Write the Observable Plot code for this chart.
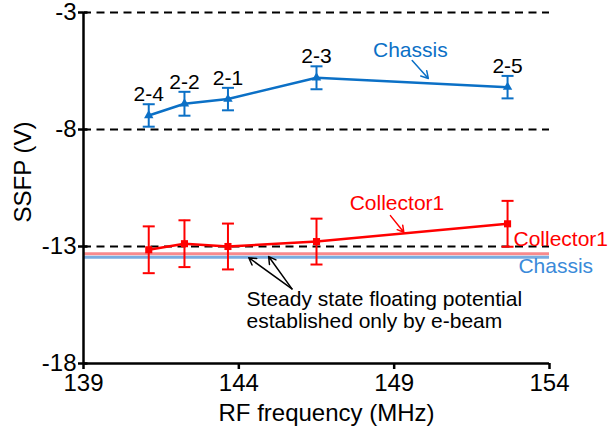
<!DOCTYPE html>
<html>
<head>
<meta charset="utf-8">
<script src="https://cdn.jsdelivr.net/npm/d3@7"></script>
<script src="https://cdn.jsdelivr.net/npm/@observablehq/plot@0.6"></script>
<style>
  html, body { margin: 0; padding: 0; background: white; }
</style>
</head>
<body>
<div id="chart"></div>
<script>
// ---- data ----
const freqs = [141.1, 142.25, 143.65, 146.5, 152.65];
const pointLabels = ["2-4", "2-2", "2-1", "2-3", "2-5"];
const chassis = [-7.40, -6.90, -6.70, -5.79, -6.19];
const chassisErr = [0.48, 0.51, 0.48, 0.49, 0.48];
const collector = [-13.14, -12.88, -13.0, -12.79, -12.03];
const collectorErr = [1.0, 1.0, 0.98, 0.98, 0.98];
const eBeamLevels = [-13.31, -13.46]; // Collector1, Chassis (e-beam only)
const gridLevels = [-3, -8, -13];
const xTicks = [139, 144, 149, 154];
const yTicks = [-3, -8, -13, -18];

const blue = "#0b70c6";
const red = "#ff0000";

const chassisData = freqs.map((f, i) => ({f, v: chassis[i], lo: chassis[i] - chassisErr[i], hi: chassis[i] + chassisErr[i], label: pointLabels[i]}));
const collectorData = freqs.map((f, i) => ({f, v: collector[i], lo: collector[i] - collectorErr[i], hi: collector[i] + collectorErr[i]}));

const cap = { draw(ctx) { ctx.moveTo(-6, 0); ctx.lineTo(6, 0); } };
const innerTick = { draw(ctx) { ctx.moveTo(0, 0); ctx.lineTo(4, 0); } };
const font = "Liberation Sans, Arial, Helvetica, sans-serif";

const chart = Plot.plot({
  width: 608,
  height: 429,
  marginLeft: 83,
  marginRight: 59,
  marginTop: 12,
  marginBottom: 66,
  x: { domain: [139, 154] },
  y: { domain: [-18, -3] },
  style: { fontFamily: font, background: "white", overflow: "visible", color: "black" },
  marks: [
    // e-beam-only floating potential lines
    Plot.ruleY([eBeamLevels[0]], { x1: 139, x2: 154, stroke: "#f88a8c", strokeWidth: 3 }),
    Plot.ruleY([eBeamLevels[1]], { x1: 139, x2: 154, stroke: "#79ace0", strokeWidth: 3 }),
    // dashed grid lines
    Plot.ruleY(gridLevels, { x1: 139, x2: 154, stroke: "black", strokeWidth: 2, strokeDasharray: "8,5.5" }),
    // axes
    Plot.axisY(yTicks, { tickSize: 5, tickPadding: 2, fontSize: 24, tickFormat: d => String(d), strokeWidth: 2.5, label: null }),
    Plot.dot(yTicks, { x: xTicks[0], y: d => d, symbol: innerTick, stroke: "black", strokeWidth: 2.5, fill: "none" }),
    Plot.axisX(xTicks, { tickSize: 6, tickPadding: 4, fontSize: 24, tickFormat: d => String(d), strokeWidth: 2.5, label: null }),
    Plot.ruleX([139], { y1: -18, y2: -3, stroke: "black", strokeWidth: 2.5 }),
    Plot.ruleY([-18], { x1: 139, x2: 154, stroke: "black", strokeWidth: 2.5 }),
    // axis titles
    Plot.text(["SSFP (V)"], { frameAnchor: "left", textAnchor: "middle", lineAnchor: "middle", rotate: -90, dx: -60, dy: -16, fontSize: 24, fill: "black" }),
    Plot.text(["RF frequency (MHz)"], { frameAnchor: "bottom", lineAnchor: "bottom", dx: 10, dy: 57, fontSize: 24, fill: "black" }),
    // Chassis series
    Plot.ruleX(chassisData, { x: "f", y1: "lo", y2: "hi", stroke: blue, strokeWidth: 2 }),
    Plot.dot(chassisData, { x: "f", y: "lo", symbol: cap, stroke: blue, strokeWidth: 2, fill: "none" }),
    Plot.dot(chassisData, { x: "f", y: "hi", symbol: cap, stroke: blue, strokeWidth: 2, fill: "none" }),
    Plot.line(chassisData, { x: "f", y: "v", stroke: blue, strokeWidth: 2.5 }),
    Plot.dot(chassisData, { x: "f", y: "v", symbol: "triangle", r: 3.5, fill: blue }),
    Plot.text(chassisData, { x: "f", y: "hi", text: "label", dy: -3, lineAnchor: "bottom", fontSize: 21, fill: "black" }),
    // Collector1 series
    Plot.ruleX(collectorData, { x: "f", y1: "lo", y2: "hi", stroke: red, strokeWidth: 2 }),
    Plot.dot(collectorData, { x: "f", y: "lo", symbol: cap, stroke: red, strokeWidth: 2, fill: "none" }),
    Plot.dot(collectorData, { x: "f", y: "hi", symbol: cap, stroke: red, strokeWidth: 2, fill: "none" }),
    Plot.line(collectorData, { x: "f", y: "v", stroke: red, strokeWidth: 2.5 }),
    Plot.dot(collectorData, { x: "f", y: "v", symbol: "square", r: 4, fill: red }),
    // annotations
    Plot.text(["Chassis"], { x: 149.52, y: -4.92, lineAnchor: "bottom", fontSize: 21, fill: blue }),
    Plot.arrow([0], { x1: 149.58, y1: -5.05, x2: 150.1, y2: -5.82, stroke: blue, strokeWidth: 1.5, headLength: 8 }),
    Plot.text(["Collector1"], { x: 149.09, y: -11.46, lineAnchor: "bottom", fontSize: 21, fill: red }),
    Plot.arrow([0], { x1: 148.88, y1: -11.68, x2: 149.31, y2: -12.39, stroke: red, strokeWidth: 1.5, headLength: 8 }),
    Plot.text(["Collector1"], { x: 152.84, y: -12.96, textAnchor: "start", lineAnchor: "bottom", fontSize: 21, fill: red }),
    Plot.text(["Chassis"], { x: 153.0, y: -14.15, textAnchor: "start", lineAnchor: "bottom", fontSize: 21, fill: "#3a8ad9" }),
    Plot.text(["Steady state floating potential\nestablished only by e-beam"], { x: 144.25, y: -16.5, textAnchor: "start", lineAnchor: "bottom", lineHeight: 1.05, fontSize: 21, fill: "black" }),
    Plot.arrow([0], { x1: 145.71, y1: -14.81, x2: 144.32, y2: -13.48, stroke: "black", strokeWidth: 1.5, headLength: 8 }),
    Plot.arrow([0], { x1: 145.71, y1: -14.81, x2: 144.96, y2: -13.43, stroke: "black", strokeWidth: 1.5, headLength: 8 })
  ]
});
document.getElementById("chart").appendChild(chart);
</script>
</body>
</html>
